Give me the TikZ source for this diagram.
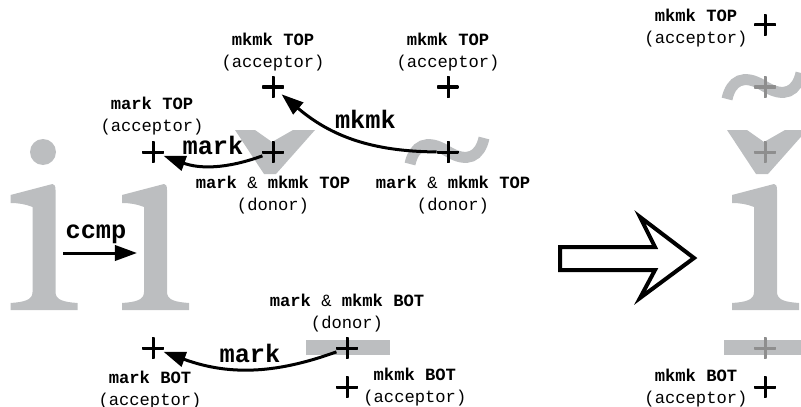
\documentclass[tikz,border=0pt]{standalone}
\usepackage{fontspec}
\setmonofont{Liberation Mono}
\usepackage{xcolor}
\usetikzlibrary{arrows.meta}
\usetikzlibrary{positioning}

\definecolor{glyphgray}{HTML}{BCBEC0}
\definecolor{ghostgray}{HTML}{8E8E8E}

\begin{document}
\begin{tikzpicture}[
        x=0.025cm, y=-0.025cm,
        >={Triangle[length=5.5mm, width=3.8mm]},
        glyph/.style={fill=glyphgray},
        attpt/.style={circle, inner sep=0pt, minimum size=0.55cm,
            path picture={\draw[line width=0.075cm, #1]
                (path picture bounding box.north) -- (path picture bounding box.south)
                (path picture bounding box.west) -- (path picture bounding box.east);}},
        attpt/.default=black,
        lbl/.style={font=\ttfamily\fontsize{12.2}{15.6}\selectfont, align=center, inner sep=0pt},
        arrlbl/.style={font=\ttfamily\bfseries\fontsize{18}{20}\selectfont},
        link/.style={->, line width=0.075cm},
        every edge/.append style={draw, link},
        dotless/.pic={\fill[glyph] (-33,195) -- (9,184) .. controls (11,184) and (12,186) .. (12,190)
            -- (12,292) .. controls (12,300) and (20,302) .. (34,303) -- (34,310) -- (-33,310)
            -- (-33,303) .. controls (-19,302) and (-11,300) .. (-11,292) -- (-11,207)
            .. controls (-18,204) and (-26,203) .. (-33,203) -- cycle;},
        caron/.pic={\fill[glyph] (-38,-22) -- (-18,-22) -- (-1,-10) -- (20,-22) -- (42,-22)
            -- (3,22) -- (-9,22) -- cycle;},
        tilde/.pic={\draw[glyphgray, line width=0.275cm] (-38,12) .. controls (-34,-6) and (-22,-14) .. (-1,-1)
            .. controls (20,12) and (32,4) .. (36,-14);},
        macron/.pic={\fill[glyph] (-41,-8) rectangle (43,7);}
    ]
    \useasboundingbox (0,0) rectangle (801,407);
    \clip (0,0) rectangle (801,407);

    % -- Glyphes (fond gris) --
    % i + dotless i :
    \fill[glyph] (43,152) circle (13);
    \pic at (43.5,0) {dotless};
    \pic at (155,0) {dotless};

    % accents isoles :
    \pic at (273,152) {caron};
    \pic at (448,152) {tilde};
    \pic at (347,348) {macron};

    % glyphe compose :
    \pic at (765,87) {tilde};
    \pic at (765,152) {caron};
    \pic at (765,0) {dotless};
    \pic at (765,348) {macron};

    % -- Position des points d'attache --
    \node[attpt] (accMarkTop) at (153,152) {};
    \node[attpt] (donCaron)   at (273,152) {};
    \node[attpt] (accCaron)   at (273,87)  {};
    \node[attpt] (accTilde)   at (448,87)  {};
    \node[attpt] (donTilde)   at (448,152) {};
    \node[attpt] (accMarkBot) at (153,348) {};
    \node[attpt] (donBar)     at (347,348) {};
    \node[attpt] (accBar)     at (347,387) {};

    \node[attpt]           (resTop)   at (765,25)  {};
    \node[attpt=ghostgray] (resTilde) at (765,87)  {};
    \node[attpt=ghostgray] (resCaron) at (765,152) {};
    \node[attpt=ghostgray] (resBar)   at (765,348) {};
    \node[attpt]           (resBot)   at (765,387) {};

    % -- Etiquettes --
    \node[lbl, above=0.12cm of accCaron] (lblAccCaron) {{\bfseries mkmk TOP}\\(acceptor)};
    \node[lbl, above=0.12cm of accTilde] (lblAccTilde) {{\bfseries mkmk TOP}\\(acceptor)};
    \node[lbl, above=0.14cm of accMarkTop, xshift=-0.025cm] (lblMarkTop) {{\bfseries mark TOP}\\(acceptor)};
    \node[lbl, below=0.32cm of donCaron] (lblDonCaron) {{\bfseries mark} \& {\bfseries mkmk TOP}\\(donor)};
    \node[lbl, below=0.32cm of donTilde, xshift=0.125cm] (lblDonTilde) {{\bfseries mark} \& {\bfseries mkmk TOP}\\(donor)};
    \node[lbl, above=0.12cm of donBar] (lblDonBar) {{\bfseries mark} \& {\bfseries mkmk BOT}\\(donor)};
    \node[lbl, below=0.28cm of accMarkBot, xshift=-0.075cm] (lblMarkBot) {{\bfseries mark BOT}\\(acceptor)};
    \node[lbl, right=0.12cm of accBar] (lblAccBar) {{\bfseries mkmk BOT}\\(acceptor)};
    \node[lbl, left=0.15cm of resTop, yshift=-0.075cm] (lblResTop) {{\bfseries mkmk TOP}\\(acceptor)};
    \node[lbl, left=0.15cm of resBot, yshift=-0.025cm] (lblResBot) {{\bfseries mkmk BOT}\\(acceptor)};

    % -- Position des arcs --
    % caron -> mark TOP :
    \draw[->] (donCaron) edge[bend left=20]
        node[arrlbl, above, yshift=0.12cm] {mark} (accMarkTop);

    % tilde -> mkmk TOP :
    \draw[->] (donTilde) edge[bend left=20]
        node[arrlbl, above, xshift=0.3cm, yshift=0.1cm] {mkmk} (accCaron);

    % barre -> mark BOT :
    \draw[->] (donBar) edge[bend left=20]
        node[arrlbl, above] {mark} (accMarkBot);

    % ccmp :
    \coordinate (ccmpL) at (63,253);
    \coordinate (ccmpR) at (137,253);
    \draw[link] (ccmpL) -- node[arrlbl, above, xshift=-0.1cm, yshift=0.07cm] {ccmp} (ccmpR);

    % -- Grande fleche --
    \draw[line width=0.1cm, fill=white] (560,247) -- (655,247) -- (640,217) -- (694,258)
        -- (640,298) -- (655,270) -- (560,270) -- cycle;

\end{tikzpicture}
\end{document}
